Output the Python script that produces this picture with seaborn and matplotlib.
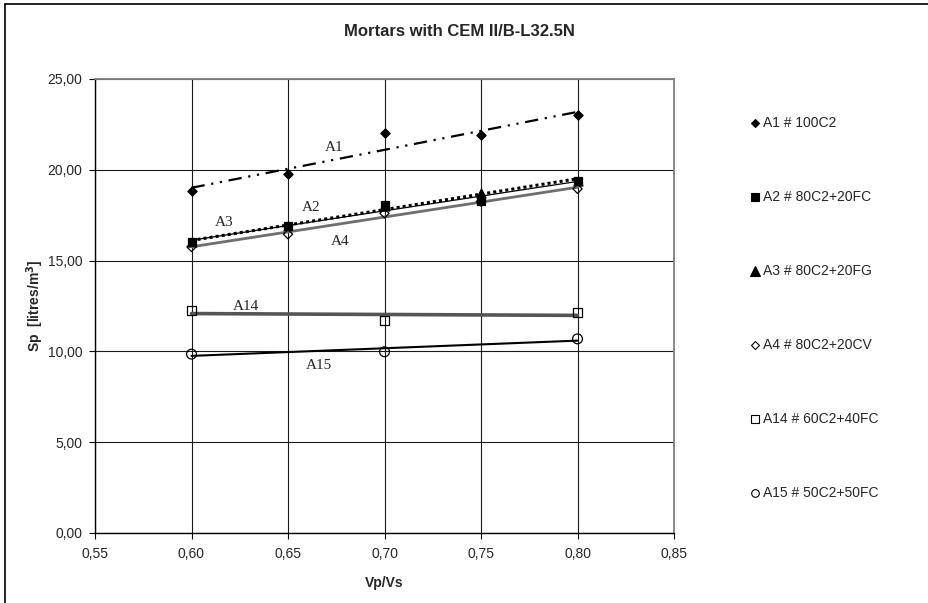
import numpy as np
import pandas as pd
import matplotlib
matplotlib.use("Agg")
import matplotlib.pyplot as plt
from matplotlib.lines import Line2D
from matplotlib.ticker import FuncFormatter, MultipleLocator
import seaborn as sns

# ---- data ----
x5 = [0.60, 0.65, 0.70, 0.75, 0.80]
x3 = [0.60, 0.70, 0.80]
a1 = [18.85, 19.75, 22.00, 21.90, 23.00]
a2 = [16.05, 16.90, 18.05, 18.30, 19.40]
a3 = [16.05, 16.90, 18.00, 18.70, 19.40]
a4 = [15.75, 16.45, 17.60, 18.25, 18.95]
a14 = [12.25, 11.70, 12.15]
a15 = [9.85, 9.98, 10.69]
legend_labels = ["A1 # 100C2", "A2 # 80C2+20FC", "A3 # 80C2+20FG",
                 "A4 # 80C2+20CV", "A14 # 60C2+40FC", "A15 # 50C2+50FC"]
curve_labels = ["A1", "A2", "A3", "A4", "A14", "A15"]
label_pos_x = [0.674, 0.662, 0.617, 0.677, 0.628, 0.666]
label_pos_y = [21.25, 17.90, 17.10, 16.05, 12.45, 9.25]
title = "Mortars with CEM II/B-L32.5N"

sns.set_style("white")
plt.rcParams["font.family"] = ["Liberation Sans", "DejaVu Sans"]

W, H = 929, 603
fig = plt.figure(figsize=(W / 100, H / 100), dpi=100)
ax = fig.add_axes([95 / W, 1 - 533 / H, (674 - 95) / W, (533 - 79) / H])

series = [
    ("A3", x5, a3, "^", 42, "black",
     dict(color="black", lw=2.2, linestyle=(0, (1, 1)), solid_capstyle="butt", dash_capstyle="butt"), 3),
    ("A1", x5, a1, "D", 22, "black",
     dict(color="black", lw=1.6, linestyle=(0, (6, 3, 1, 3, 1, 3)), dash_capstyle="butt"), 4),
    ("A2", x5, a2, "s", 40, "black", dict(color="black", lw=0.9), 4),
    ("A4", x5, a4, "D", 22, "none", dict(color="#6e6e6e", lw=2.0), 4),
    ("A14", x3, a14, "s", 48, "none", dict(color="#555555", lw=2.6), 4),
    ("A15", x3, a15, "o", 50, "none", dict(color="black", lw=1.5), 4),
]

for name, xs, ys, mk, s, fc, lkw, z in series:
    df = pd.DataFrame({"x": xs, "y": ys})
    sns.regplot(data=df, x="x", y="y", ax=ax, ci=None, marker=mk,
                scatter_kws=dict(s=s, facecolors=fc, color="black",
                                 linewidths=0.9, alpha=1, zorder=z + 1),
                line_kws=dict(zorder=z, **lkw))

for t, lx, ly in zip(curve_labels, label_pos_x, label_pos_y):
    ax.text(lx, ly, t, family=["Liberation Serif", "DejaVu Serif"], fontsize=11,
            ha="center", va="center", zorder=6)

ax.set_xlim(0.55, 0.85)
ax.set_ylim(0, 25)
ax.xaxis.set_major_locator(MultipleLocator(0.05))
ax.yaxis.set_major_locator(MultipleLocator(5))
fmt = FuncFormatter(lambda v, p: f"{v:.2f}".replace(".", ","))
ax.xaxis.set_major_formatter(fmt)
ax.yaxis.set_major_formatter(fmt)
ax.grid(True, color="#1a1a1a", lw=0.8)
ax.set_axisbelow(True)
ax.tick_params(axis="both", which="major", direction="out", length=4, width=0.8,
               color="black", labelsize=10, bottom=True, left=True)
ax.tick_params(axis="x", pad=6)
ax.tick_params(axis="y", pad=5)
for side in ["left", "bottom"]:
    ax.spines[side].set_color("black")
    ax.spines[side].set_linewidth(1.0)
for side in ["top", "right"]:
    ax.spines[side].set_color("#808080")
    ax.spines[side].set_linewidth(1.3)

ax.set_xlabel("Vp/Vs", fontsize=10, fontweight="bold", labelpad=11)
ax.set_ylabel(r"Sp  [litres/m$\mathbf{^3}$]", fontsize=10, fontweight="bold", labelpad=1)

fig.text(459 / W, 1 - 31 / H, title, ha="center", va="center",
         fontsize=12, fontweight="bold")

# legend (markers only)
leg_markers = [("D", "black"), ("s", "black"), ("^", "black"),
               ("D", "none"), ("s", "none"), ("o", "none")]
leg_sizes = [4.2, 5.5, 6.5, 4.2, 5.5, 5.5]
for i, (lab, (mk, fc), ms) in enumerate(zip(legend_labels, leg_markers, leg_sizes)):
    yy = 1 - (123 + 74 * i) / H
    fig.add_artist(Line2D([755 / W], [yy], marker=mk, markersize=ms,
                          markerfacecolor=fc, markeredgecolor="black",
                          markeredgewidth=0.8, linestyle="none",
                          transform=fig.transFigure))
    fig.text(763 / W, yy, lab, ha="left", va="center", fontsize=10)

# chart border
fig.add_artist(Line2D([5 / W, 5 / W], [0, 1 - 4 / H], color="black", lw=1.2,
                      transform=fig.transFigure))
fig.add_artist(Line2D([5 / W, 1], [1 - 4 / H, 1 - 4 / H], color="black", lw=1.2,
                      transform=fig.transFigure))

fig.savefig("out.png", dpi=100)
